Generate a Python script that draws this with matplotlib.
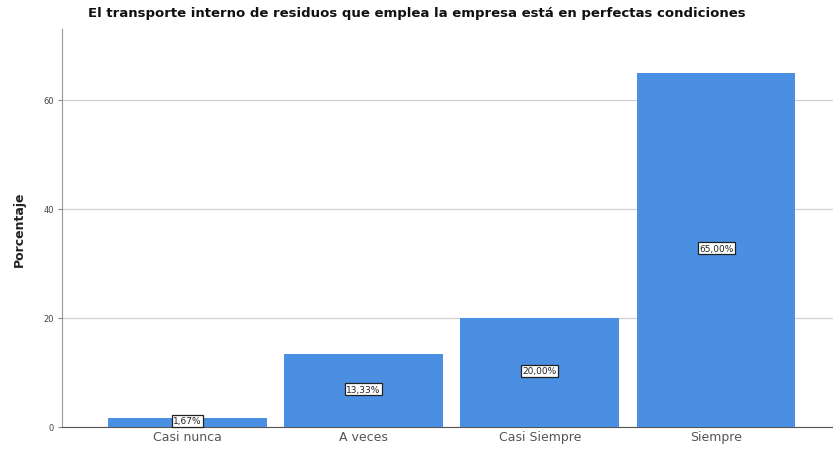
import matplotlib
matplotlib.use("Agg")
import matplotlib.pyplot as plt

# valores
categorias = ["Casi nunca", "A veces", "Casi Siempre", "Siempre"]
porcentajes = [1.67, 13.33, 20.00, 65.00]
ticks_y = [0, 20, 40, 60]

fig = plt.figure(figsize=(8.33, 4.56), dpi=100)
ax = fig.add_axes([62 / 833, 28 / 456, 4.42 * 176.3 / 833, 398 / 456])

x = range(len(categorias))
ax.bar(x, porcentajes, width=0.9, color="#4a8fe2", zorder=3)

for i, v in enumerate(porcentajes):
    etiqueta = f"{v:.2f}".replace(".", ",") + "%"
    ax.text(i, v / 2 + 0.3, etiqueta, ha="center", va="center", fontsize=6.5,
            color="#222222", zorder=4,
            bbox=dict(boxstyle="square,pad=0.15", fc="white", ec="#222222", lw=0.9))

ax.set_xlim(-0.71, 3.71)
ax.set_ylim(0, 73)
ax.set_xticks(list(x))
ax.set_xticklabels(categorias, fontsize=9, color="#555555")
ax.set_yticks(ticks_y)
ax.set_yticklabels([str(t) for t in ticks_y], fontsize=6, color="#444444")
ax.tick_params(axis="x", length=0, pad=2)
ax.tick_params(axis="y", length=3, color="#888888", pad=3)

ax.yaxis.grid(True, color="#d0d0d0", lw=0.9, zorder=0)
for s in ["top", "right"]:
    ax.spines[s].set_visible(False)
ax.spines["left"].set_color("#999999")
ax.spines["bottom"].set_color("#555555")

ax.set_ylabel("Porcentaje", fontsize=9, fontweight="bold", color="#222222", labelpad=12)
fig.text(0.5, 1 - 14 / 456, "El transporte interno de residuos que emplea la empresa está en perfectas condiciones",
         ha="center", va="center", fontsize=9.5, fontweight="bold", color="#111111")

fig.savefig("out.png", dpi=100)
